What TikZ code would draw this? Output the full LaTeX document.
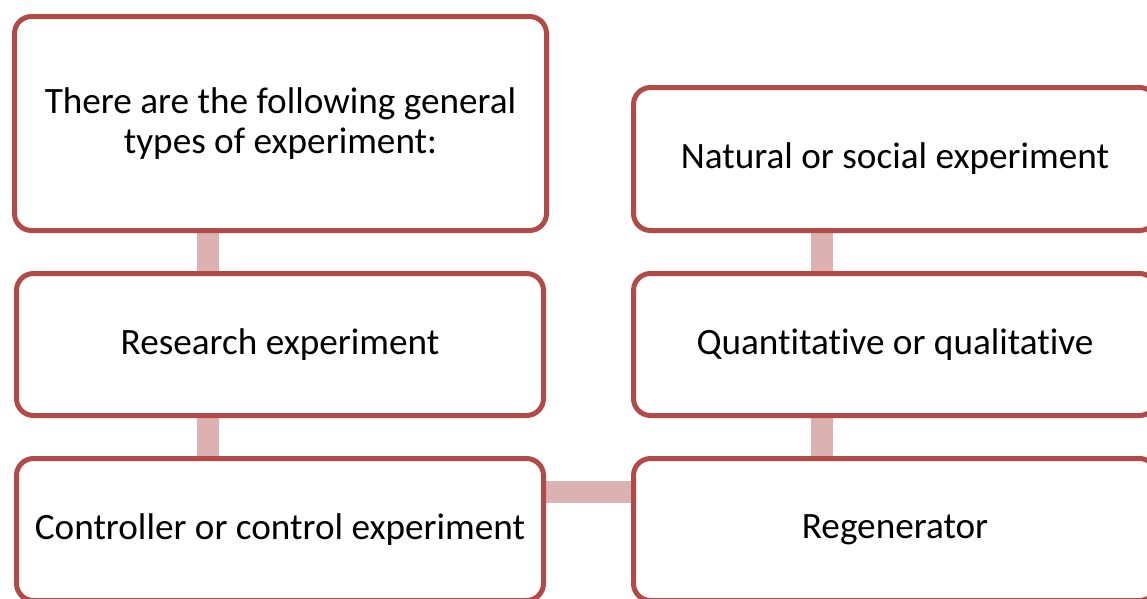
\documentclass[tikz,border=0pt]{standalone}
\usepackage{fontspec}
\setmainfont[Ligatures=NoCommon]{Carlito}
\usetikzlibrary{positioning}
\definecolor{boxred}{HTML}{B24B48}
\definecolor{linkpink}{HTML}{DCB2B1}
\pgfdeclarelayer{back}
\pgfsetlayers{back,main}

\begin{document}
\begin{tikzpicture}[x=1pt,y=-1pt]
          \useasboundingbox (0,0) rectangle (1147,598);
          \clip (0,0) rectangle (1147,598);
          \begin{scope}[every node/.style={rectangle,rounded corners=17pt,draw=boxred,line width=5pt,fill=white,align=center,font=\fontsize{37.2}{40}\selectfont}]
            \node (types) [minimum width=532pt,minimum height=214pt] at (280.5,123.5) {There are the following general\\types of experiment:};
            \node (research) [minimum width=527pt,minimum height=142pt] at (280,344.5) {Research experiment};
            \node (control) [minimum width=527pt,minimum height=142pt] at (280,529.5) {Controller or control experiment};
            \node (natural) [minimum width=523pt,minimum height=143pt] at (895,159) {Natural or social experiment};
            \node (quant) [minimum width=523pt,minimum height=142pt] at (895,344.5) {Quantitative or qualitative};
            \node (regen) [minimum width=523pt,minimum height=142pt] at (895,529.5) {Regenerator};
          \end{scope}
          \begin{pgfonlayer}{back}
            \begin{scope}[every path/.style={draw=linkpink,line width=22pt}]
              \path ([xshift=-72.5pt]types.south) edge ([xshift=-72pt]research.north);
              \path ([xshift=-72pt]research.south) edge ([xshift=-72pt]control.north);
              \path ([yshift=37.5pt]control.east) edge ([yshift=37.5pt]regen.west);
              \path ([xshift=-73pt]natural.south) edge ([xshift=-73pt]quant.north);
              \path ([xshift=-73pt]quant.south) edge ([xshift=-73pt]regen.north);
            \end{scope}
          \end{pgfonlayer}
        \end{tikzpicture}
\end{document}
